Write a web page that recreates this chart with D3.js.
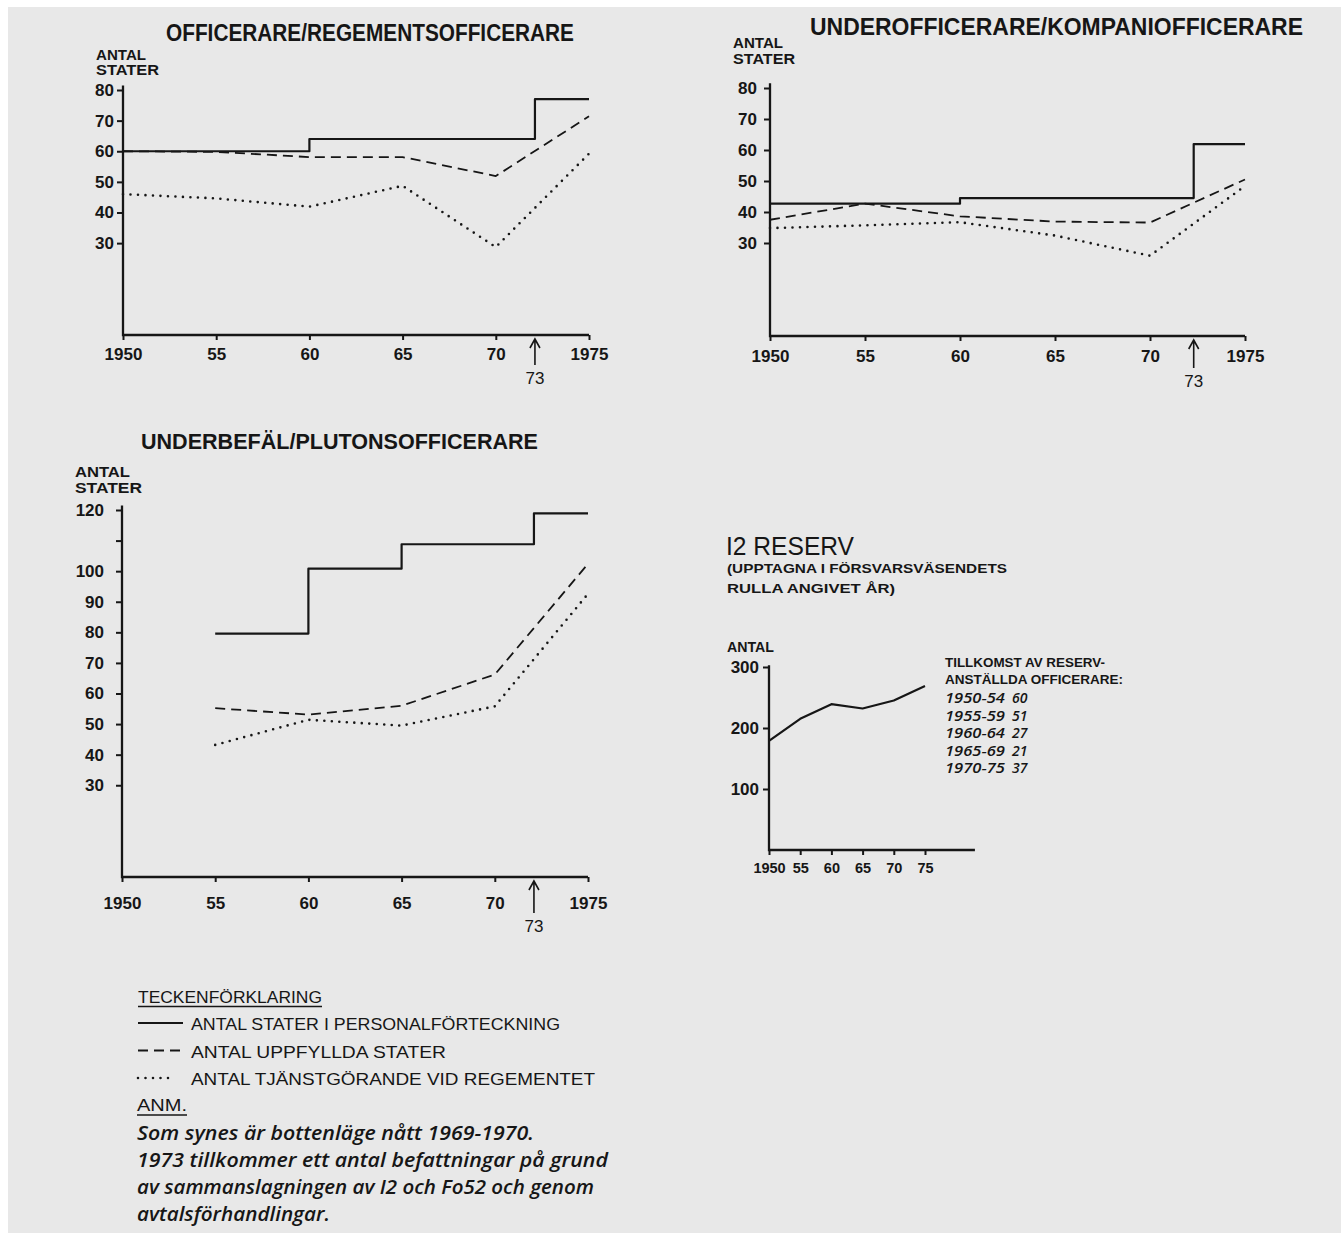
<!DOCTYPE html>
<html>
<head>
<meta charset="utf-8">
<script src="https://cdn.jsdelivr.net/npm/d3@7"></script>
<style>
  body { margin: 0; background: #fff; }
  text { fill: #161616; }
</style>
</head>
<body>
<script>
// ---- data ----
const yearTicks = [1950, 1955, 1960, 1965, 1970, 1975];
const yearLabels = ["1950", "55", "60", "65", "70", "1975"];
const markLabel = "73";

// Officerare / regementsofficerare
const offStepYears = [1950, 1960, 1972.1, 1975];
const offStater = [60, 64, 77, 77];
const offYears = [1950, 1955, 1960, 1965, 1970, 1975];
const offUppfyllda = [60, 59.8, 58.1, 58.1, 51.9, 71.4];
const offTjanst = [46, 44.6, 41.9, 48.7, 28.7, 59.2];
const offYTicks = [30, 40, 50, 60, 70, 80];

// Underofficerare / kompaniofficerare
const uoStepYears = [1950, 1960, 1972.3, 1975];
const uoStater = [42.7, 44.5, 61.9, 61.9];
const uoYears = [1950, 1955, 1960, 1965, 1970, 1975];
const uoUppfyllda = [37.5, 42.7, 38.6, 36.9, 36.6, 50.5];
const uoTjanst = [34.8, 35.7, 36.7, 32.4, 25.9, 48.4];
const uoYTicks = [30, 40, 50, 60, 70, 80];

// Underbefäl / plutonsofficerare
const ubStepYears = [1955, 1960, 1965, 1972.1, 1975];
const ubStater = [79.6, 100.8, 108.8, 118.9, 118.9];
const ubYears = [1955, 1960, 1965, 1970, 1975];
const ubUppfyllda = [55.2, 53.1, 56.0, 66.2, 102.4];
const ubTjanst = [43.2, 51.4, 49.5, 55.8, 92.6];
const ubYTicks = [30, 40, 50, 60, 70, 80, 90, 100, 110, 120];
const ubYLabels = [30, 40, 50, 60, 70, 80, 90, 100, 120];

// I2 reserv
const resYears = [1950, 1955, 1960, 1965, 1970, 1975];
const resAntal = [179, 215, 239, 232, 245, 269];
const resYTicks = [100, 200, 300];
const resXLabels = ["1950", "55", "60", "65", "70", "75"];
const tillkomstPeriods = ["1950-54", "1955-59", "1960-64", "1965-69", "1970-75"];
const tillkomstAntal = [60, 51, 27, 21, 37];

const legendKeys = ["stater", "uppfyllda", "tjanst"];
const legendLabels = ["ANTAL STATER I PERSONALFÖRTECKNING", "ANTAL UPPFYLLDA STATER", "ANTAL TJÄNSTGÖRANDE VID REGEMENTET"];
const noteLines = [
  "Som synes är bottenläge nått 1969-1970.",
  "1973 tillkommer ett antal befattningar på grund",
  "av sammanslagningen av I2 och Fo52 och genom",
  "avtalsförhandlingar."
];

// ---- drawing ----
const W = 1341, H = 1233;
const INK = "#161616";
const FONT = "'Liberation Sans', Arial, sans-serif";
const HAND = "'Open Sans', 'DejaVu Sans', sans-serif";

const lineStyles = {
  stater: { dash: null, width: 2.2, cap: "butt" },
  uppfyllda: { dash: "10,6", width: 1.8, cap: "butt" },
  tjanst: { dash: "0,7.5", width: 2.6, cap: "round" }
};

const svg = d3.select("body").append("svg")
    .attr("width", W)
    .attr("height", H);

// grey paper of the scan
svg.append("rect")
    .attr("x", 8).attr("y", 7)
    .attr("width", W - 8).attr("height", H - 7)
    .attr("fill", "#e8e8e8");

function label(x, y, str, size, opt = {}) {
  const t = svg.append("text")
      .attr("x", x).attr("y", y)
      .attr("font-size", size)
      .attr("font-family", opt.family || FONT)
      .attr("font-weight", opt.weight || "bold")
      .text(str);
  if (opt.width) t.attr("textLength", opt.width).attr("lengthAdjust", "spacingAndGlyphs");
  if (opt.anchor) t.attr("text-anchor", opt.anchor);
  if (opt.italic) t.attr("font-style", "italic");
  return t;
}

function styled(path, key) {
  const s = lineStyles[key];
  return path.attr("fill", "none")
      .attr("stroke", INK)
      .attr("stroke-width", s.width)
      .attr("stroke-linecap", s.cap)
      .attr("stroke-linejoin", "round")
      .attr("stroke-dasharray", s.dash);
}

function drawChart(c) {
  const x = d3.scaleLinear().domain(c.xDomain).range(c.xRange);
  const y = d3.scaleLinear().domain(c.yDomain).range(c.yRange);
  const g = svg.append("g").attr("color", INK);

  // y ticks and labels
  const yAxis = g.append("g")
      .attr("transform", `translate(${x(c.xDomain[0])},0)`)
      .call(d3.axisLeft(y).tickValues(c.yTicks).tickSize(6).tickSizeOuter(0)
          .tickPadding(c.yPad)
          .tickFormat(d => (c.yLabels || c.yTicks).includes(d) ? d : ""));
  // x ticks and labels
  const xAxis = g.append("g")
      .attr("transform", `translate(0,${y(0)})`)
      .call(d3.axisBottom(x).tickValues(c.xTicks).tickSize(5).tickSizeOuter(0)
          .tickPadding(c.xPad)
          .tickFormat((d, i) => c.xLabels[i]));

  [yAxis, xAxis].forEach(a => {
    a.select(".domain").remove();
    a.attr("font-family", FONT).attr("font-size", 17).attr("font-weight", "bold");
    a.selectAll("line").attr("stroke-width", 2);
  });
  if (c.xFont) xAxis.attr("font-size", c.xFont);

  // axis lines, drawn by hand-length like the original
  g.append("path")
      .attr("d", `M${x(c.xDomain[0])},${y(c.yTop)}V${y(0)}H${x(c.xEnd)}`)
      .attr("fill", "none").attr("stroke", INK).attr("stroke-width", 2.3);

  c.series.forEach(s => {
    const pts = s.years.map((yr, i) => [yr, s.values[i]]);
    const line = d3.line()
        .x(d => x(d[0])).y(d => y(d[1]))
        .curve(s.step ? d3.curveStepAfter : d3.curveLinear);
    styled(g.append("path").attr("d", line(pts)), s.key);
  });

  // arrow marking 1973
  if (c.markYear) {
    const ax = x(c.markYear), top = y(0) + 4, bot = y(0) + c.arrowLen;
    g.append("path")
        .attr("d", `M${ax},${bot}V${top}M${ax - 5},${top + 9}L${ax},${top}L${ax + 5},${top + 9}`)
        .attr("fill", "none").attr("stroke", INK).attr("stroke-width", 1.6);
    label(ax, bot + 19, markLabel, 17, { anchor: "middle", weight: "normal" });
  }
  return { x, y };
}

// chart 1
label(166, 41, "OFFICERARE/REGEMENTSOFFICERARE", 23, { width: 408 });
label(96, 60, "ANTAL", 14, { width: 50 });
label(96, 75, "STATER", 14, { width: 63 });
drawChart({
  xDomain: [1950, 1975], xRange: [123, 589], xEnd: 1975,
  yDomain: [0, 80], yRange: [335, 90], yTop: 81.5,
  yTicks: offYTicks, yPad: 3,
  xTicks: yearTicks, xLabels: yearLabels, xPad: 8,
  markYear: offStepYears[2], arrowLen: 30,
  series: [
    { key: "stater", step: true, years: offStepYears, values: offStater },
    { key: "uppfyllda", years: offYears, values: offUppfyllda },
    { key: "tjanst", years: offYears, values: offTjanst }
  ]
});

// chart 2
label(810, 35, "UNDEROFFICERARE/KOMPANIOFFICERARE", 24, { width: 493 });
label(733, 48, "ANTAL", 14, { width: 50 });
label(733, 64, "STATER", 14, { width: 62 });
drawChart({
  xDomain: [1950, 1975], xRange: [770, 1245], xEnd: 1975,
  yDomain: [0, 80], yRange: [336, 88], yTop: 81.5,
  yTicks: uoYTicks, yPad: 7,
  xTicks: yearTicks, xLabels: yearLabels, xPad: 9,
  markYear: uoStepYears[2], arrowLen: 32,
  series: [
    { key: "stater", step: true, years: uoStepYears, values: uoStater },
    { key: "uppfyllda", years: uoYears, values: uoUppfyllda },
    { key: "tjanst", years: uoYears, values: uoTjanst }
  ]
});

// chart 3
label(141, 449, "UNDERBEFÄL/PLUTONSOFFICERARE", 22, { width: 397 });
label(75, 477, "ANTAL", 14, { width: 55 });
label(75, 493, "STATER", 14, { width: 67 });
drawChart({
  xDomain: [1950, 1975], xRange: [122, 588], xEnd: 1975,
  yDomain: [0, 120], yRange: [877, 510], yTop: 121.5,
  yTicks: ubYTicks, yLabels: ubYLabels, yPad: 12,
  xTicks: yearTicks, xLabels: yearLabels, xPad: 15,
  markYear: ubStepYears[3], arrowLen: 36,
  series: [
    { key: "stater", step: true, years: ubStepYears, values: ubStater },
    { key: "uppfyllda", years: ubYears, values: ubUppfyllda },
    { key: "tjanst", years: ubYears, values: ubTjanst }
  ]
});

// chart 4: I2 reserv
label(726, 555, "I2 RESERV", 25, { width: 128, weight: "normal" });
label(727, 573, "(UPPTAGNA I FÖRSVARSVÄSENDETS", 12.5, { width: 280 });
label(727, 593, "RULLA ANGIVET ÅR)", 12.5, { width: 168 });
label(727, 652, "ANTAL", 15, { width: 47 });
drawChart({
  xDomain: [1950, 1975], xRange: [769, 925], xEnd: 1983,
  yDomain: [0, 300], yRange: [850, 667], yTop: 303,
  yTicks: resYTicks, yPad: 4,
  xTicks: resYears, xLabels: resXLabels, xPad: 8, xFont: 14.5,
  series: [
    { key: "stater", years: resYears, values: resAntal }
  ]
});

label(945, 667, "TILLKOMST AV RESERV-", 12.5, { width: 160 });
label(945, 684, "ANSTÄLLDA OFFICERARE:", 12.5, { width: 178 });
tillkomstPeriods.forEach((p, i) => {
  const yy = 703 + i * 17.6;
  label(945, yy, p, 14, { family: HAND, italic: true, weight: 600, width: 60 });
  label(1012, yy, tillkomstAntal[i], 14, { family: HAND, italic: true, weight: 600 });
});

// legend
label(138, 1003, "TECKENFÖRKLARING", 16, { width: 184, weight: "normal" });
svg.append("line").attr("x1", 138).attr("x2", 322).attr("y1", 1006.5).attr("y2", 1006.5)
    .attr("stroke", INK).attr("stroke-width", 1.5);
legendKeys.forEach((k, i) => {
  const yy = 1023 + i * 27.5;
  styled(svg.append("path").attr("d", `M138,${yy}H${k === "tjanst" ? 172 : 183}`), k);
  label(191, yy + 7, legendLabels[i], 17, { weight: "normal", width: [369, 255, 404][i] });
});
label(137, 1111, "ANM.", 17, { weight: "normal", width: 50 });
svg.append("line").attr("x1", 137).attr("x2", 187).attr("y1", 1115).attr("y2", 1115)
    .attr("stroke", INK).attr("stroke-width", 1.5);
noteLines.forEach((t, i) => {
  label(137, 1140 + i * 27, t, 20, { family: HAND, italic: true, weight: 600, width: [397, 471, 457, 193][i] });
});
</script>
</body>
</html>
